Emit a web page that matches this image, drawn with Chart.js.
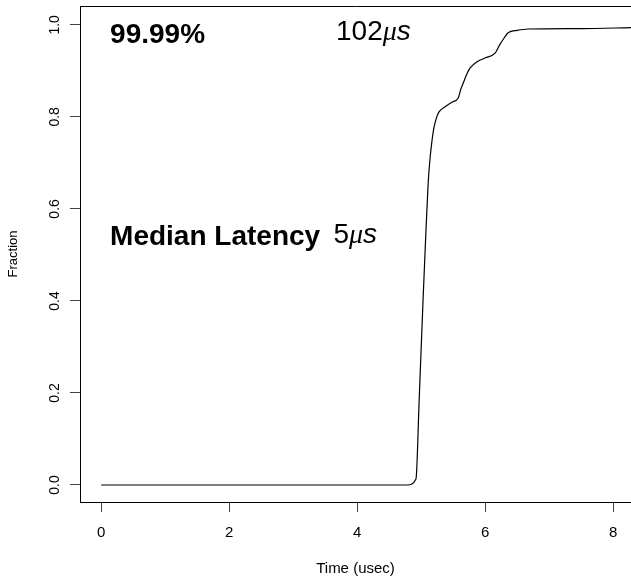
<!DOCTYPE html>
<html>
<head>
<meta charset="utf-8">
<script src="https://cdn.jsdelivr.net/npm/chart.js@4.4.1/dist/chart.umd.min.js"></script>
<style>
html, body { margin: 0; padding: 0; background: #fff; }
</style>
</head>
<body>
<canvas id="myChart" width="631" height="578"></canvas>
<script>
// latency CDF
const timeUsec = [0, 4.78, 4.92, 4.97, 5.03, 5.07, 5.11, 5.14, 5.17, 5.2, 5.24, 5.28, 5.375, 5.48, 5.58, 5.62, 5.66, 5.72, 5.77, 5.875, 6.0, 6.16, 6.23, 6.3, 6.36, 6.5, 6.67, 7.5, 8.3];
const fraction = [0, 0, 0.013, 0.185, 0.40, 0.533, 0.655, 0.71, 0.748, 0.776, 0.798, 0.811, 0.822, 0.832, 0.841, 0.86, 0.874, 0.895, 0.907, 0.920, 0.928, 0.939, 0.957, 0.972, 0.983, 0.988, 0.991, 0.992, 0.994];
const xTicks = [0, 2, 4, 6, 8];
const yTicks = [0, 0.2, 0.4, 0.6, 0.8, 1.0];
const noteTexts = ['99.99%', '102', 'Median Latency', '5'];

var sans = 'Liberation Sans, Arial, sans-serif';

// where the notes go (data units) and how they look
var notes = [
    { x: 0.14, y: 0.961, parts: [[noteTexts[0], 'bold 28px ' + sans]] },
    { x: 3.67, y: 0.967, parts: [[noteTexts[1], '28px ' + sans], ['\u03bc', 'italic 28px Liberation Serif, serif'], ['s', 'italic 28px ' + sans]] },
    { x: 0.14, y: 0.522, parts: [[noteTexts[2], 'bold 28px ' + sans]] },
    { x: 3.63, y: 0.526, parts: [[noteTexts[3], '28px ' + sans], ['\u03bc', 'italic 28px Liberation Serif, serif'], ['s', 'italic 28px ' + sans]] }
];

var extras = {
    id: 'extras',
    afterDraw: function (chart) {
        var ctx = chart.ctx;
        var area = chart.chartArea;
        var xs = chart.scales.x, ys = chart.scales.y;
        ctx.save();
        // top side of the box
        ctx.strokeStyle = '#000';
        ctx.lineWidth = 1;
        ctx.beginPath();
        ctx.moveTo(area.left, Math.round(area.top) + 0.5);
        ctx.lineTo(area.right, Math.round(area.top) + 0.5);
        ctx.stroke();
        ctx.fillStyle = '#000';
        ctx.textBaseline = 'alphabetic';
        ctx.textAlign = 'left';
        notes.forEach(function (n) {
            var px = xs.getPixelForValue(n.x);
            var py = ys.getPixelForValue(n.y);
            n.parts.forEach(function (p) {
                ctx.font = p[1];
                ctx.fillText(p[0], px, py);
                px += ctx.measureText(p[0]).width;
            });
        });
        ctx.restore();
    }
};

function noPad(s) {
    s.paddingLeft = 0; s.paddingRight = 0; s.paddingTop = 0; s.paddingBottom = 0;
}

const ctx = document.getElementById('myChart');
var chart = new Chart(ctx, {
    type: 'line',
    data: {
        labels: timeUsec,
        datasets: [{
            data: timeUsec.map(function (t, i) { return { x: t, y: fraction[i] }; }),
            borderColor: '#000',
            borderWidth: 1.2,
            pointRadius: 0,
            fill: false,
            cubicInterpolationMode: 'monotone'
        }]
    },
    options: {
        responsive: false,
        animation: false,
        layout: { padding: { top: 6, left: 0, right: 0, bottom: 0 } },
        plugins: { legend: { display: false }, tooltip: { enabled: false } },
        scales: {
            x: {
                type: 'linear',
                min: -0.33,
                max: 8.28,
                afterBuildTicks: function (s) { s.ticks = xTicks.map(function (v) { return { value: v }; }); },
                afterFit: function (s) { s.height = 76; noPad(s); },
                ticks: { color: '#000', font: { family: sans, size: 15 }, padding: 12, maxRotation: 0 },
                grid: { drawOnChartArea: false, tickLength: 10, color: '#444' },
                border: { display: true, color: '#000', width: 1 },
                title: { display: true, text: 'Time (usec)', color: '#000', font: { family: sans, size: 15 }, padding: { top: 0, bottom: 0 } }
            },
            y: {
                type: 'linear',
                min: -0.037,
                max: 1.041,
                afterBuildTicks: function (s) { s.ticks = yTicks.map(function (v) { return { value: v }; }); },
                afterFit: function (s) { s.width = 80; noPad(s); },
                ticks: {
                    color: '#000', font: { family: sans, size: 14 }, padding: 5,
                    minRotation: 90, maxRotation: 90, crossAlign: 'center',
                    callback: function (v) { return v.toFixed(1); }
                },
                grid: { drawOnChartArea: false, tickLength: 10, color: '#444' },
                border: { display: true, color: '#000', width: 1 },
                title: { display: true, text: 'Fraction', color: '#000', font: { family: sans, size: 13 }, padding: { top: 6, bottom: 0 } }
            }
        }
    },
    plugins: [extras]
});
</script>
</body>
</html>
